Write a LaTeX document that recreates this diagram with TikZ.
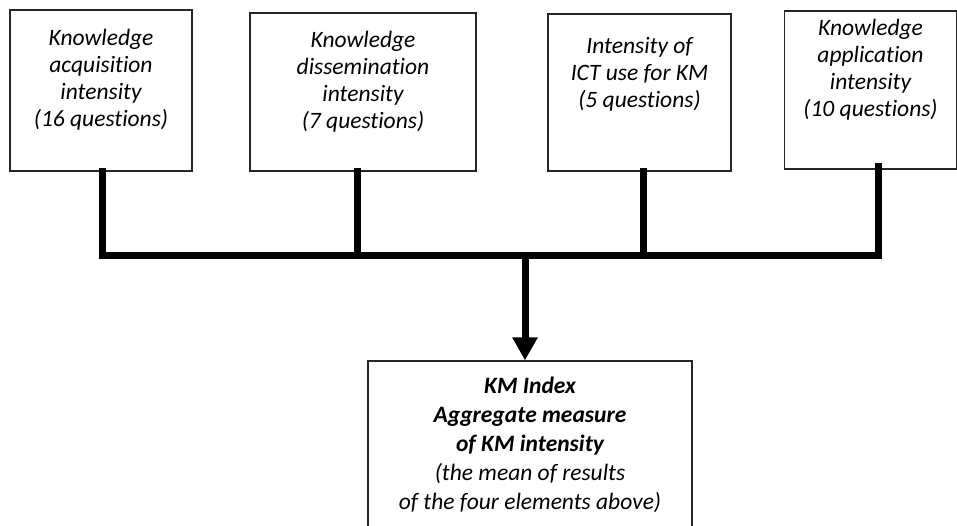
\documentclass[tikz,border=0pt]{standalone}
\usepackage{fontspec}
\setmainfont{Carlito}[RawFeature=-liga]
\usetikzlibrary{arrows.meta}
\tikzset{
  boxnode/.style={draw=black!85, line width=1.3pt, inner sep=0pt, fill=white},
  txt/.style={anchor=north, inner sep=0pt, align=center, font=\fontsize{23.5}{27}\selectfont\itshape},
  btxt/.style={anchor=north, inner sep=0pt, align=center, font=\fontsize{23.5}{29}\selectfont\itshape},
  conn/.style={line width=7pt, line join=miter, line cap=rect},
}
\begin{document}
\begin{tikzpicture}[x=1pt,y=-1pt]
\useasboundingbox (0,0) rectangle (957,525);
% boxes
\node[boxnode, minimum width=182pt, minimum height=161pt] (b1) at (101,90.5) {};
\node[boxnode, minimum width=226pt, minimum height=158pt] (b2) at (363,92) {};
\node[boxnode, minimum width=183pt, minimum height=157pt] (b3) at (639.5,92.5) {};
\node[boxnode, minimum width=172pt, minimum height=158pt] (b4) at (870.5,90) {};
\node[boxnode, minimum width=324pt, minimum height=168pt] (km) at (530,445) {};
% texts
\node[txt] (t1) at (101,29) {Knowledge\\acquisition\\intensity\\(16 questions)};
\node[txt] (t2) at (363,31) {Knowledge\\dissemination\\intensity\\(7 questions)};
\node[txt] (t3) at (639.5,37) {Intensity of\\ICT use for KM\\(5 questions)};
\node[txt] (t4) at (870.5,19) {Knowledge\\application\\intensity\\(10 questions)};
\node[btxt] (t5) at (530,377) {\textbf{KM Index}\\\textbf{Aggregate measure}\\\textbf{of KM intensity}\\(the mean of results\\of the four elements above)};
% connectors
\coordinate (bus) at (0,255);
\coordinate (c1) at ([xshift=1pt]b1.south);
\coordinate (c2) at ([xshift=-6pt]b2.south);
\coordinate (c3) at ([xshift=3.5pt]b3.south);
\coordinate (c4) at ([xshift=7.5pt,yshift=3pt]b4.south);
\coordinate (ca) at (525,255);
\draw[conn] (c1) -- (c1 |- bus) -- (c4 |- bus) -- (c4);
\draw[conn] (c2) -- (c2 |- bus);
\draw[conn] (c3) -- (c3 |- bus);
\draw[line width=7pt, -{Triangle[width=24pt,length=23pt]}] (ca) -- (ca |- km.north);
\end{tikzpicture}
\end{document}
